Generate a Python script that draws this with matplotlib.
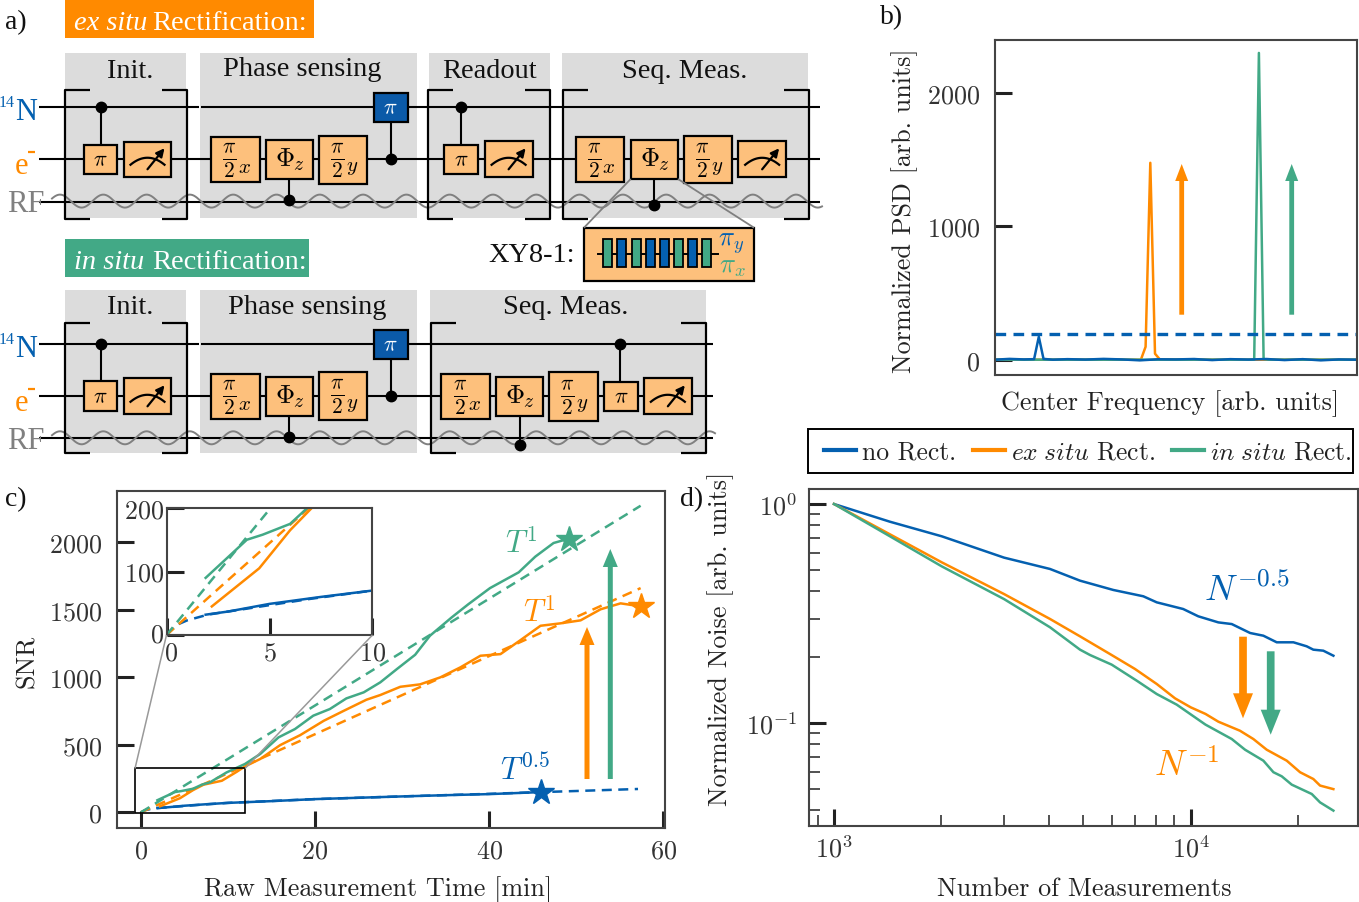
import numpy as np
import matplotlib
matplotlib.use("Agg")
import matplotlib.pyplot as plt
from matplotlib.patches import Rectangle, FancyArrow
from matplotlib.lines import Line2D
from matplotlib.ticker import LogLocator, NullFormatter, FixedLocator
from matplotlib.transforms import ScaledTranslation

plt.rcParams['font.family'] = ['cmr10', 'DejaVu Serif']
plt.rcParams['mathtext.fontset'] = 'cm'
plt.rcParams['axes.formatter.use_mathtext'] = True
plt.rcParams['axes.unicode_minus'] = False

BLUE, ORANGE, GREEN = '#0460B0', '#FF8A00', '#42A986'
GATE, GRAY, DARK = '#FDC07C', '#DCDCDC', '#222222'
W, H = 1359, 903
FS = 18.8

# ---------- panel b data ----------
psd_none_x = [0, 4, 8, 10.8, 12.1, 13.4, 16, 20, 25, 30, 35, 40, 45, 50, 55, 60, 65, 70, 75, 80, 85, 90, 95, 100]
psd_none_y = [0, 6, 2, 4, 172, 6, 0, 4, 1, 6, 2, -5, 3, 2, 5, -3, 4, 1, 5, -3, 4, -5, 2, 0]
psd_ex_x = [0, 10, 40.3, 41.6, 42.9, 44.2, 45.5, 60, 100]
psd_ex_y = [0, 0, 0, 97, 1478, 45, 3, 0, 0]
psd_in_x = [0, 50, 71.6, 72.9, 74.2, 75.5, 100]
psd_in_y = [0, 0, 0, 2303, 5, 0, 0]
psd_level = [190, 190]
psd_span = [0, 100]

# ---------- panel c data ----------
t_in = [1.9, 3.9, 4.67, 6.0, 7.0, 7.93, 9.85, 11.95, 13.7, 15.8, 17.7, 19.8, 21.7, 23.6, 25.6, 27.5, 29.4, 31.5, 33.2, 35.7, 37.6, 40.1, 43.4, 45.3, 47.4, 49.3]
snr_in = [90, 150, 158, 175, 205, 222, 296, 358, 432, 555, 617, 716, 765, 844, 889, 963, 1061, 1167, 1308, 1444, 1541, 1661, 1778, 1894, 1995, 2030]
t_ex = [2.2, 4.5, 6.0, 7.2, 9.3, 11.0, 11.95, 13.7, 16.0, 18.3, 21.0, 23.3, 25.9, 27.5, 29.8, 32.07, 34.4, 36.7, 39.0, 41.3, 43.5, 45.9, 48.2, 50.5, 52.8, 55.1, 57.4]
snr_ex = [45, 105, 165, 205, 234, 300, 340, 395, 498, 572, 678, 752, 834, 869, 930, 948, 1000, 1074, 1160, 1172, 1271, 1382, 1400, 1422, 1504, 1548, 1526]
t_none = [1.9, 3.0, 5.0, 7.5, 10, 15, 20, 25, 30, 35, 40, 46]
snr_none = [32, 37, 49, 60, 70, 83, 98, 108, 118, 127, 135, 150]
fit_in_t, fit_in_snr = [0, 57.4], [0, 2271]
fit_ex_t, fit_ex_snr = [0, 57.4], [0, 1661]
fit_none_t = [0, 0.5, 1, 2, 4, 7, 10, 20, 30, 40, 46, 50, 57.1]
fit_none_snr = [0, 16, 23, 32, 42, 57, 70, 98, 118, 137, 150, 158, 173]
star_t = [46.0, 49.2, 57.4]
star_snr = [150, 2025, 1526]
star_col = [BLUE, GREEN, ORANGE]

# ---------- panel d data ----------
n_none = [1000, 1435, 2005, 2997, 4033, 4894, 6067, 7362, 8030, 9525, 10500, 11950, 13030, 14670, 15980, 17420, 19400, 21130, 22060, 23530, 25110]
noise_none = [1.0, .830, .712, .569, .505, .4466, .405, .379, .3556, .3315, .307, .288, .283, .2576, .2504, .2336, .2336, .224, .2162, .2139, .2029]
n_ex = [1000, 1435, 2005, 2997, 4033, 4894, 5938, 6978, 8030, 9036, 10000, 11000, 11950, 13740, 14980, 16330, 18580, 20250, 22060, 23040, 25110]
noise_ex = [1.0, .727, .5415, .388, .2985, .2487, .2065, .1765, .1507, .1296, .1179, .1100, .1014, .0922, .0845, .0755, .0673, .0596, .0555, .0518, .0499]
n_in = [1000, 1435, 2005, 2997, 4033, 4894, 5220, 6004, 7055, 8030, 9134, 11000, 13030, 14200, 15980, 17050, 17990, 19190, 21840, 23040, 25110]
noise_in = [1.0, .712, .519, .368, .2735, .2162, .2044, .1847, .1561, .1356, .1213, .0983, .0845, .0755, .0673, .0596, .0571, .0523, .0474, .0434, .0398]

# ---------- schematic layout (left, right, top, bottom in pixels) ----------
shade_boxes = [(65, 186, 54, 219), (200, 417, 54, 219), (429, 550, 54, 219), (562, 808, 54, 219),
               (65, 186, 291, 454), (200, 417, 291, 454), (430, 706, 291, 454)]
shade_titles = [("Init.", 130, 68), ("Phase sensing", 302, 67), ("Readout", 489, 68), ("Seq. Meas.", 685, 68),
                ("Init.", 130, 305), ("Phase sensing", 307, 305), ("Seq. Meas.", 566, 305)]
brackets = [(65, 186.5, 90.5, 220), (428, 550, 90.5, 220), (563, 809, 90.5, 220),
            (65, 186.5, 324, 453.5), (430.7, 705.7, 324, 453.5)]
pulse_gates = [(84, 117, 146, 175), (444.3, 478.3, 145.7, 175), (84, 117, 382.3, 411.7), (604, 637.7, 382.7, 412.3)]
meters = [(124, 171, 142.5, 178), (484.6, 532.6, 142.3, 178.3), (738.3, 786, 142.3, 178.3),
          (124, 171, 379.3, 415.3), (643.7, 692, 379.3, 415.3)]
half_x = [(211, 259.5, 137.7, 183), (575.7, 624, 138, 183), (211, 259.5, 375, 419.7), (441.3, 490, 375, 419.7)]
half_y = [(319, 367, 136.5, 184.5), (684, 732, 136.7, 184), (319, 367, 373, 421.3), (549.3, 597.7, 373.3, 421.7)]
phi_z = [(266, 313, 141, 180), (630.7, 678, 140.7, 179.7), (266, 313, 378, 417), (496, 543.3, 378, 416.7)]
nuc_pi = [(373.5, 407.5, 94, 123), (373.5, 407.5, 331, 360)]
# control dots: x, dot y, gate-side y
controls = [(100.5, 108, 146), (461, 108, 146), (289.3, 201, 180), (654.3, 206, 180), (390.5, 160, 123),
            (100.5, 345, 382), (620.3, 345, 382), (289.3, 437.7, 417), (519.7, 445.7, 416.7), (390.5, 397.3, 360)]
xy8_colors = [GREEN, BLUE, GREEN, BLUE, BLUE, GREEN, BLUE, GREEN]
xy8_centers = [607.7, 621.7, 636, 650, 664.3, 678.3, 692.7, 706.7]

fig = plt.figure(figsize=(W / 100, H / 100), dpi=100)


def px_axes(l, r, t, b, **kw):
    return fig.add_axes([l / W, 1 - b / H, (r - l) / W, (b - t) / H], **kw)


def style(ax, major=12, width=2.2, size=FS, xpad=7.5, ypad=10.5):
    for s in ax.spines.values():
        s.set_color('#444444')
        s.set_linewidth(1.5)
    ax.tick_params(which='major', direction='in', length=major, width=width, color=DARK,
                   labelsize=size, labelcolor='#333333')
    ax.tick_params(axis='x', which='major', pad=xpad)
    ax.tick_params(axis='y', which='major', pad=ypad)


def set_labels(ax, box, xlabel=None, xpos=None, ylabel=None, ypos=None):
    l, r, t, b = box
    if xlabel:
        ax.set_xlabel(xlabel, fontsize=FS, color='#222222', va='center')
        ax.xaxis.set_label_coords((xpos[0] - l) / (r - l), (b - xpos[1]) / (b - t))
    if ylabel:
        ax.set_ylabel(ylabel, fontsize=FS, color='#222222', va='center')
        ax.yaxis.set_label_coords((ypos[0] - l) / (r - l), (b - ypos[1]) / (b - t))


# ---------- panel b ----------
box_b = (995, 1357, 41, 376)
axb = px_axes(*box_b)
axb.plot(psd_ex_x, psd_ex_y, color=ORANGE, lw=1.8)
axb.plot(psd_in_x, psd_in_y, color=GREEN, lw=1.8)
axb.plot(psd_none_x, psd_none_y, color=BLUE, lw=1.8)
axb.plot(psd_span, psd_level, color=BLUE, lw=2.4, ls=(0, (3.2, 2.2)))
axb.set_xlim(0, 100)
axb.set_ylim(-115, 2400)
axb.set_xticks([])
axb.set_yticks([0, 1000, 2000])
style(axb)
set_labels(axb, box_b, "Center Frequency [arb. units]", (1170, 404), "Normalized PSD [arb. units]", (905, 211))

# ---------- panel c ----------
box_c = (116.5, 665, 491.5, 829)
axc = px_axes(*box_c)
for x, y, c in ((fit_none_t, fit_none_snr, BLUE), (fit_ex_t, fit_ex_snr, ORANGE), (fit_in_t, fit_in_snr, GREEN)):
    axc.plot(x, y, color=c, lw=1.8, ls=(0, (4, 2.6)))
for x, y, c in ((t_none, snr_none, BLUE), (t_ex, snr_ex, ORANGE), (t_in, snr_in, GREEN)):
    axc.plot(x, y, color=c, lw=1.8)
for x, y, c in zip(star_t, star_snr, star_col):
    axc.plot([x], [y], marker='*', ms=19, color=c, mec=c, ls='none', zorder=5)
axc.add_patch(Rectangle((-0.7, -7), 12.65, 333, fill=False, ec='black', lw=1.2, zorder=6))
axc.set_xlim(-2.8, 60.2)
axc.set_ylim(-116, 2384)
axc.set_xticks([0, 20, 40, 60])
axc.set_yticks([0, 500, 1000, 1500, 2000])
style(axc, major=12)
set_labels(axc, box_c, "Raw Measurement Time [min]", (378, 890), "SNR", (27, 661))

# inset
box_i = (166.5, 372.5, 509, 636)
axi = px_axes(*box_i)
for x, y, c in ((fit_none_t, fit_none_snr, BLUE), (fit_ex_t, fit_ex_snr, ORANGE), (fit_in_t, fit_in_snr, GREEN)):
    axi.plot(x, y, color=c, lw=1.8, ls=(0, (4, 2.6)))
for x, y, c in ((t_none, snr_none, BLUE), (t_ex, snr_ex, ORANGE), (t_in, snr_in, GREEN)):
    axi.plot(x, y, color=c, lw=1.8)
axi.set_xlim(0, 10)
axi.set_ylim(0, 200)
axi.set_xticks([0, 5, 10])
axi.set_yticks([0, 100, 200])
style(axi, major=12, xpad=4, ypad=1.5)
shift = axi.get_xticklabels()[0]
shift.set_transform(shift.get_transform() + ScaledTranslation(0.04, 0, fig.dpi_scale_trans))
shift = axi.get_yticklabels()[0]
shift.set_transform(shift.get_transform() + ScaledTranslation(0, 0.03, fig.dpi_scale_trans))

# ---------- panel d ----------
box_d = (809.3, 1357.7, 490, 827.3)
axd = px_axes(*box_d)
axd.loglog(n_none, noise_none, color=BLUE, lw=1.8)
axd.loglog(n_ex, noise_ex, color=ORANGE, lw=1.8)
axd.loglog(n_in, noise_in, color=GREEN, lw=1.8)
axd.set_xlim(10 ** 2.9308, 10 ** 4.468)
axd.set_ylim(10 ** -1.4717, 10 ** 0.0685)
axd.xaxis.set_major_locator(FixedLocator([1e3, 1e4]))
axd.yaxis.set_major_locator(FixedLocator([1e-1, 1e0]))
axd.xaxis.set_minor_locator(LogLocator(base=10, subs=range(2, 10), numticks=20))
axd.yaxis.set_minor_locator(LogLocator(base=10, subs=range(2, 10), numticks=20))
axd.xaxis.set_minor_formatter(NullFormatter())
axd.yaxis.set_minor_formatter(NullFormatter())
style(axd, major=12, xpad=6, ypad=9)
axd.tick_params(which='minor', direction='in', length=8, width=1.1, color=DARK)
set_labels(axd, box_d, "Number of Measurements", (1084, 889), "Normalized Noise [arb. units]", (721, 639))

handles = [Line2D([], [], color=BLUE, lw=3), Line2D([], [], color=ORANGE, lw=3), Line2D([], [], color=GREEN, lw=3)]
labels = ["no Rect.", r"$\mathit{ex}\;\mathit{situ}$ Rect.", r"$\mathit{in}\;\mathit{situ}$ Rect."]
leg = axd.legend(handles, labels, ncol=3, loc='center', fontsize=18.4, frameon=False,
                 handlelength=1.25, handletextpad=0.25, columnspacing=0.65, borderpad=0, borderaxespad=0,
                 bbox_to_anchor=(1088 / W, 1 - 453 / H), bbox_transform=fig.transFigure)
for txt in leg.get_texts():
    txt.set_color('#222222')

# ---------- overlay in pixel coordinates ----------
ov = fig.add_axes([0, 0, 1, 1], zorder=10)
ov.set_xlim(0, W)
ov.set_ylim(H, 0)
ov.axis('off')
ov.patch.set_alpha(0)
TIMES = 'Liberation Serif'
TS = 20.4

ov.add_patch(Rectangle((808, 430), 545, 44, fill=False, ec='black', lw=1.4, zorder=2))


def ttext(x, y, s, color='#111111', size=TS, ha='center', style='normal', z=8, weight='normal'):
    ov.text(x, y + 3, s, family=TIMES, color=color, fontsize=size, ha=ha, va='center', style=style, zorder=z, weight=weight)


def box(b, fc=GATE, z=5, lw=1.6):
    l, r, t, bt = b
    ov.add_patch(Rectangle((l, t), r - l, bt - t, fc=fc, ec='black', lw=lw, zorder=z))


def line(xs, ys, color='black', lw=1.5, z=3):
    ov.plot(xs, ys, color=color, lw=lw, zorder=z, solid_capstyle='butt')


def arrow(x, y0, y1, col, width=5, hw=15, hl=18):
    ov.add_patch(FancyArrow(x, y0, 0, y1 - y0, width=width, head_width=hw, head_length=hl,
                            length_includes_head=True, fc=col, ec='none', zorder=7))


# panel letters
for s, x, y in (("a)", 5, 20), ("b)", 880, 15), ("c)", 5, 497), ("d)", 680, 497)):
    ttext(x, y, s, ha='left', size=20)

# rectification banners
for (l, r, t, b, col, word, y) in ((65, 314, 0, 38.5, ORANGE, "ex situ", 20), (65, 309, 240, 278.3, GREEN, "in situ", 260)):
    ov.add_patch(Rectangle((l, t), r - l, b - t, fc=col, ec='none', zorder=1))
    ttext(74, y, word, color='white', ha='left', style='italic', size=TS)
    ttext(152, y, "Rectification:", color='white', ha='left', size=TS)

for (l, r, t, b) in shade_boxes:
    ov.add_patch(Rectangle((l, t), r - l, b - t, fc=GRAY, ec='none', zorder=1))
for s, x, y in shade_titles:
    ttext(x, y, s)

# wires
for y_n, y_e, y_rf, x_end in ((108, 160, 202.6, 820), (345, 397.3, 439.3, 713)):
    line([39, 199], [y_n, y_n])
    line([201, x_end], [y_n, y_n])
    line([39, x_end], [y_e, y_e])
    line([39, x_end], [y_rf, y_rf])
    wave_x = np.linspace(52, x_end + 2, 500)
    ov.plot(wave_x, y_rf - 0.5 - 6.5 * np.cos(2 * np.pi * (wave_x - 60) / 43.3), color='#808080', lw=1.4, zorder=4)
    ttext(-1, y_n - 8, "14", color=BLUE, ha='left', size=11.5)
    ttext(15, y_n + 2, "N", color=BLUE, ha='left', size=22)
    ttext(15, y_e + 3, "e", color=ORANGE, ha='left', size=22)
    line([28, 35], [y_e - 7, y_e - 7], color=ORANGE, lw=1.6)
    ttext(7, y_rf - 1, "RF", color='#808080', ha='left', size=22)

# brackets
for l, r, t, b in brackets:
    lip = 25
    line([l + lip, l, l, l + lip], [t, t, b, b], lw=1.6, z=4)
    line([r - lip, r, r, r - lip], [t, t, b, b], lw=1.6, z=4)

# gates
for b in pulse_gates:
    box(b)
    ov.text((b[0] + b[1]) / 2, (b[2] + b[3]) / 2, r"$\pi$", fontsize=16, ha='center', va='center', zorder=8)
for b in meters:
    box(b)
    cx, cy = (b[0] + b[1]) / 2, (b[2] + b[3]) / 2
    arc_x = np.linspace(cx - 17, cx + 17, 40)
    ov.plot(arc_x, cy + 5 - 7 * (1 - ((arc_x - cx) / 17) ** 2) + 0.5, color='black', lw=1.6, zorder=8)
    ov.annotate("", xy=(cx + 17, cy - 11), xytext=(cx, cy + 10), zorder=8,
                arrowprops=dict(arrowstyle='-|>', color='black', lw=1.6, shrinkA=0, shrinkB=0, mutation_scale=12))
for gates, sub in ((half_x, 'x'), (half_y, 'y')):
    for b in gates:
        box(b)
        cx, cy = (b[0] + b[1]) / 2, (b[2] + b[3]) / 2
        ov.text(cx - 6, cy, r"$\frac{\pi}{2}$", fontsize=22, ha='center', va='center', zorder=8)
        ov.text(cx + 9, cy + 8, "$%s$" % sub, fontsize=15, ha='center', va='center', zorder=8)
for b in phi_z:
    box(b)
    cx, cy = (b[0] + b[1]) / 2, (b[2] + b[3]) / 2
    ov.text(cx - 4.5, cy - 1, r"$\Phi$", fontsize=19, ha='center', va='center', zorder=8)
    ov.text(cx + 9, cy + 5, r"$z$", fontsize=14, ha='center', va='center', zorder=8)
for b in nuc_pi:
    box(b, fc='#0B5AA8')
    ov.text((b[0] + b[1]) / 2, (b[2] + b[3]) / 2, r"$\pi$", fontsize=16, color='white', ha='center', va='center', zorder=8)
for x, y, yg in controls:
    line([x, x], [y, yg], lw=1.5, z=4)
    ov.plot([x], [y], 'o', color='black', ms=7.5, zorder=6)

# XY8 zoom
line([630.7, 584], [180, 228.7], color='#808080', lw=1.3, z=6)
line([678, 754], [180, 228.7], color='#808080', lw=1.3, z=6)
box((584, 754, 228.7, 282.3))
ov.plot([597.7, 718.3], [255.3, 255.3], color='black', lw=1.4, zorder=6)
for cx, col in zip(xy8_centers, xy8_colors):
    ov.add_patch(Rectangle((cx - 4.5, 240), 9, 27.7, fc=col, ec='black', lw=1.3, zorder=7))
ov.text(731, 244, r"$\pi_y$", color=BLUE, fontsize=19, ha='center', va='center', zorder=8)
ov.text(732, 267, r"$\pi_x$", color=GREEN, fontsize=19, ha='center', va='center', zorder=8)
ttext(532, 253, "XY8-1:")

# arrows
arrow(1181.7, 315.7, 165, ORANGE, width=4.8, hw=13, hl=17)
arrow(1291.7, 315.7, 165, GREEN, width=4.8, hw=13, hl=17)
arrow(587, 780, 628, ORANGE)
arrow(610.3, 780, 550, GREEN)
arrow(1243, 637.7, 719.3, ORANGE, width=7.7, hw=20, hl=25)
arrow(1270.7, 652.3, 735.7, GREEN, width=7.7, hw=20, hl=25)

# inset connectors
line([135, 166.5], [769.5, 636], color='#999999', lw=1.1, z=2)
line([245, 372.5], [769.5, 636], color='#999999', lw=1.1, z=2)

# scaling labels
ov.text(521, 543, r"$T^{1}$", color=GREEN, fontsize=22, ha='center', va='center', zorder=8)
ov.text(539, 612, r"$T^{1}$", color=ORANGE, fontsize=22, ha='center', va='center', zorder=8)
ov.text(525, 770, r"$T^{0.5}$", color=BLUE, fontsize=22, ha='center', va='center', zorder=8)
ov.text(1247, 590, r"$N^{-0.5}$", color=BLUE, fontsize=26, ha='center', va='center', zorder=8)
ov.text(1187, 766, r"$N^{-1}$", color=ORANGE, fontsize=26, ha='center', va='center', zorder=8)

fig.savefig("out.png", dpi=100)
